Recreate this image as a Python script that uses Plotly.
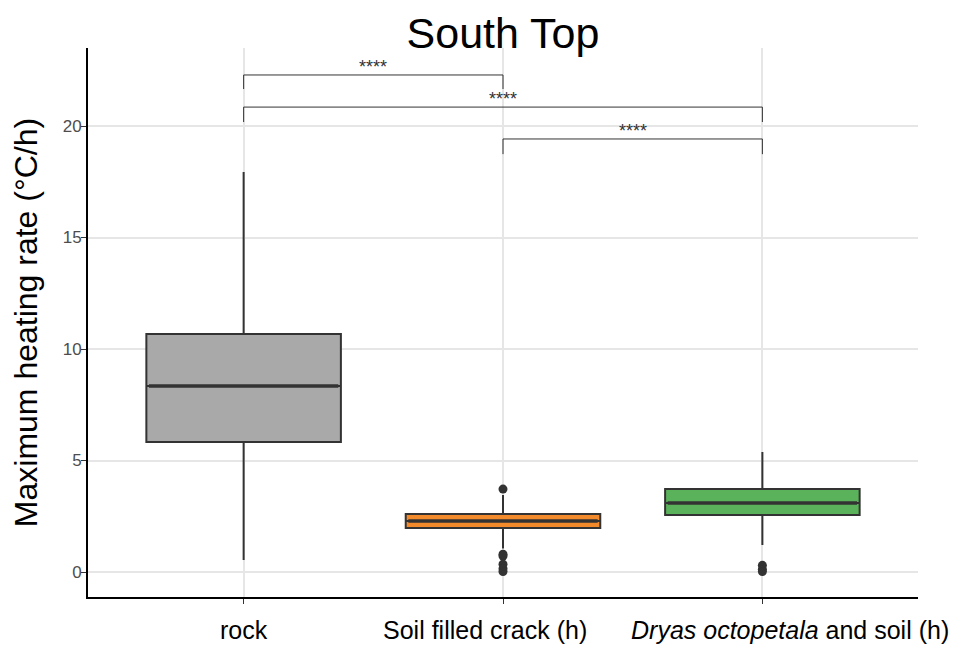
import plotly.graph_objects as go

categories = ["rock", "Soil filled crack (h)", "<i>Dryas octopetala</i> and soil (h)"]
q1 = [5.83, 1.97, 2.56]
median = [8.34, 2.29, 3.09]
q3 = [10.67, 2.60, 3.72]
lowerfence = [0.54, 1.05, 1.21]
upperfence = [17.94, 3.45, 5.38]
fills = ["#A9A9A9", "#F28A2C", "#5AB25A"]

outlier_cat = [1, 1, 1, 1, 1, 1, 2, 2, 2]
outlier_val = [3.72, 0.80, 0.72, 0.35, 0.15, 0.02, 0.30, 0.12, 0.02]

brackets = [(0, 1, 22.29, 21.66), (0, 2, 20.85, 20.18), (1, 2, 19.42, 18.74)]
bracket_labels = ["****", "****", "****"]

BOXW = 0.75
label_shift = [0, -18, 28]

fig = go.Figure()
for i in range(3):
    fig.add_trace(go.Box(
        x=[i], q1=[q1[i]], median=[median[i]], q3=[q3[i]],
        lowerfence=[lowerfence[i]], upperfence=[upperfence[i]],
        fillcolor=fills[i], line=dict(color="#333333", width=2),
        width=BOXW, whiskerwidth=0, boxpoints=False, showlegend=False, hoverinfo="skip",
    ))
    fig.add_trace(go.Scatter(
        x=[i - BOXW / 2 + 0.01, i + BOXW / 2 - 0.01], y=[median[i], median[i]],
        mode="lines", line=dict(color="#333333", width=3.5),
        showlegend=False, hoverinfo="skip",
    ))
    fig.add_annotation(x=i, xref="x", y=0, yref="paper", text=categories[i],
                       showarrow=False, yanchor="top", xanchor="center",
                       yshift=-17, xshift=label_shift[i],
                       font=dict(size=25, color="black", family="Liberation Sans"))

fig.add_trace(go.Scatter(
    x=outlier_cat, y=outlier_val, mode="markers",
    marker=dict(color="#333333", size=9), showlegend=False, hoverinfo="skip",
))

for (a, b, top, bot), lab in zip(brackets, bracket_labels):
    fig.add_trace(go.Scatter(
        x=[a, a, b, b], y=[bot, top, top, bot], mode="lines",
        line=dict(color="#333333", width=1), showlegend=False, hoverinfo="skip",
    ))
    fig.add_annotation(x=(a + b) / 2, y=top, text=lab, showarrow=False,
                       yanchor="bottom", yshift=-4,
                       font=dict(size=18, color="#333333", family="Liberation Sans"))

fig.update_layout(
    width=958, height=649,
    margin=dict(l=80, r=48, t=40, b=60, autoexpand=False),
    plot_bgcolor="white", paper_bgcolor="white",
    title=dict(text="South Top", x=0.5, xref="paper", y=0.962, yanchor="middle",
               font=dict(size=43, color="black", family="Liberation Sans")),
)
fig.update_xaxes(
    tickmode="array", tickvals=[0, 1, 2], ticktext=["", "", ""],
    range=[-0.6, 2.6], showgrid=True, gridcolor="#E6E6E6", gridwidth=1.5,
    showline=True, linecolor="black", linewidth=2,
    ticks="outside", ticklen=5, tickcolor="#333333",
    zeroline=False, automargin=False,
)
fig.update_yaxes(
    range=[-1.12, 23.5], tickvals=[0, 5, 10, 15, 20],
    showgrid=True, gridcolor="#E6E6E6", gridwidth=1.5,
    showline=True, linecolor="black", linewidth=2,
    ticks="outside", ticklen=5, tickcolor="#333333",
    tickfont=dict(size=17, color="#4D4D4D", family="Liberation Sans"),
    ticklabelstandoff=-4,
    title=dict(text="Maximum heating rate (°C/h)", font=dict(size=32, color="black", family="Liberation Sans"), standoff=24),
    zeroline=False, automargin=False,
)

fig.write_html("out.html")
